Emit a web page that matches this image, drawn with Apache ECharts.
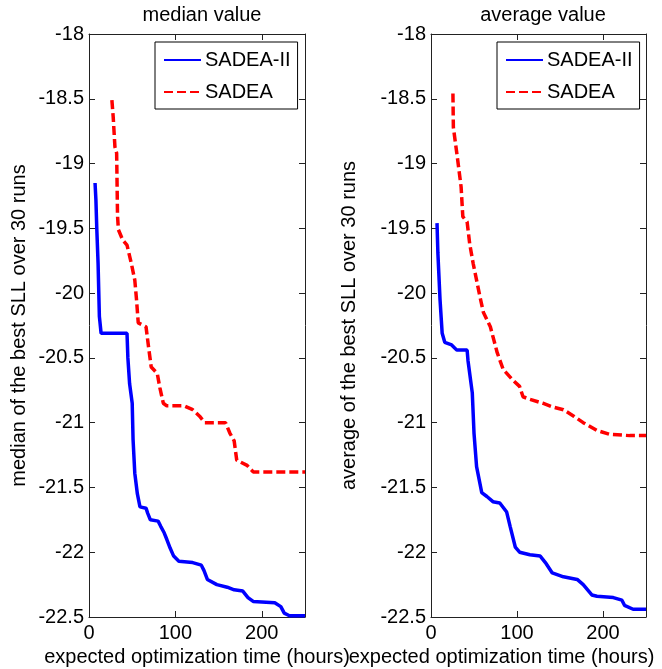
<!DOCTYPE html>
<html>
<head>
<meta charset="utf-8">
<script src="https://cdn.jsdelivr.net/npm/echarts@6/dist/echarts.min.js"></script>
<style>
html,body{margin:0;padding:0;background:#fff;}
#chart{width:662px;height:669px;}
</style>
</head>
<body>
<div id="chart"></div>
<script>
// ---- data ----
var panelTitles = ['median value', 'average value'];
var yAxisNames = ['median of the best SLL over 30 runs', 'average of the best SLL over 30 runs'];
var xAxisName = 'expected optimization time (hours)';
var seriesNames = ['SADEA-II', 'SADEA'];

// median panel
var medSadea2X = [7, 8, 9, 10.5, 12, 14, 44, 45, 47, 50, 51, 53, 56, 59, 66, 68, 71, 80, 83, 87, 90, 94, 98, 104, 120, 130, 133, 137, 148, 160, 168, 178, 184, 190, 215, 222, 226, 232, 250];
var medSadea2Y = [-19.15, -19.28, -19.5, -19.77, -20.18, -20.31, -20.31, -20.5, -20.7, -20.85, -21.13, -21.39, -21.55, -21.65, -21.66, -21.7, -21.75, -21.76, -21.8, -21.85, -21.9, -21.97, -22.03, -22.07, -22.08, -22.1, -22.14, -22.21, -22.25, -22.27, -22.29, -22.3, -22.35, -22.38, -22.39, -22.42, -22.47, -22.49, -22.49];
var medSadeaX = [26.5, 28, 30, 32, 33, 34, 39, 44, 49, 53, 55, 57, 66, 69, 72, 79, 82, 86, 90, 110, 120, 128, 134, 158, 163, 168, 171, 183, 190, 250];
var medSadeaY = [-18.51, -18.64, -18.87, -18.92, -19.4, -19.51, -19.59, -19.63, -19.77, -19.9, -20.05, -20.23, -20.26, -20.42, -20.57, -20.62, -20.73, -20.85, -20.87, -20.87, -20.9, -20.95, -21.0, -21.0, -21.08, -21.14, -21.29, -21.33, -21.38, -21.38];

// average panel
var avgSadea2X = [7, 8, 10.5, 13, 16, 24, 30, 42, 43, 48, 50, 53, 59, 65, 72, 80, 88, 92, 98, 103, 115, 127, 133, 141, 154, 170, 177, 187, 193, 212, 222, 225, 235, 250];
var avgSadea2Y = [-19.46, -19.69, -20.05, -20.31, -20.38, -20.4, -20.44, -20.44, -20.52, -20.77, -21.08, -21.34, -21.54, -21.57, -21.61, -21.62, -21.69, -21.8, -21.96, -22.0, -22.02, -22.03, -22.08, -22.16, -22.19, -22.21, -22.25, -22.33, -22.34, -22.35, -22.37, -22.41, -22.44, -22.44];
var avgSadeaX = [25.5, 26, 31, 35, 37, 42, 45, 49, 53, 57, 61, 69, 77, 84, 95, 103, 107, 115, 130, 142, 154, 166, 177, 193, 208, 231, 250];
var avgSadeaY = [-18.46, -18.72, -18.97, -19.18, -19.41, -19.45, -19.62, -19.77, -19.9, -20.03, -20.15, -20.26, -20.46, -20.59, -20.67, -20.72, -20.8, -20.82, -20.85, -20.88, -20.9, -20.95, -21.0, -21.06, -21.09, -21.1, -21.1];

var xMin = 0, xMax = 250, xStep = 100;
var yMin = -22.5, yMax = -18, yStep = 0.5;

function pairs(xs, ys) { return xs.map(function (x, i) { return [x, ys[i]]; }); }

var FONT = '"Liberation Sans", Arial, sans-serif';
var AX = '#222';
var FS = 20;

var grids = [
  { left: 89, top: 34, width: 216, height: 583, outerBoundsMode: 'none', containLabel: false },
  { left: 431, top: 34, width: 215, height: 583, outerBoundsMode: 'none', containLabel: false }
];

var xAxes = [], yAxes = [];
[0, 1].forEach(function (g) {
  xAxes.push({
    type: 'value', gridIndex: g, min: xMin, max: xMax, interval: xStep, position: 'bottom',
    name: xAxisName, nameLocation: 'middle', nameGap: 27,
    nameTextStyle: { fontFamily: FONT, fontSize: FS, color: '#000', padding: g === 0 ? 0 : [0, 74, 0, 0] },
    axisLine: { show: true, lineStyle: { color: AX, width: 1 } },
    axisTick: { show: true, inside: true, length: 6, lineStyle: { color: AX } },
    axisLabel: { show: true, margin: 6, fontFamily: FONT, fontSize: FS, color: '#000', showMaxLabel: false },
    splitLine: { show: false }
  });
  xAxes.push({
    type: 'value', gridIndex: g, min: xMin, max: xMax, interval: xStep, position: 'top',
    axisLine: { show: true, lineStyle: { color: AX, width: 1 } },
    axisTick: { show: true, inside: true, length: 6, lineStyle: { color: AX } },
    axisLabel: { show: false },
    splitLine: { show: false }
  });
  yAxes.push({
    type: 'value', gridIndex: g, min: yMin, max: yMax, interval: yStep, position: 'left',
    name: yAxisNames[g], nameLocation: 'middle', nameGap: g === 0 ? 60 : 72, nameRotate: 90,
    nameTextStyle: { fontFamily: FONT, fontSize: FS, color: '#000' },
    axisLine: { show: true, onZero: false, lineStyle: { color: AX, width: 1 } },
    axisTick: { show: true, inside: true, length: 6, lineStyle: { color: AX } },
    axisLabel: { show: true, margin: 5, fontFamily: FONT, fontSize: FS, color: '#000' },
    splitLine: { show: false }
  });
  yAxes.push({
    type: 'value', gridIndex: g, min: yMin, max: yMax, interval: yStep, position: 'right',
    axisLine: { show: true, onZero: false, lineStyle: { color: AX, width: 1 } },
    axisTick: { show: true, inside: true, length: 6, lineStyle: { color: AX } },
    axisLabel: { show: false },
    splitLine: { show: false }
  });
});

function lineSeries(name, data, g, color, dashed) {
  return {
    type: 'line', name: name, data: data, xAxisIndex: g * 2, yAxisIndex: g * 2,
    symbol: 'none', showSymbol: false, smooth: false, clip: true,
    lineStyle: { color: color, width: 3.5, type: dashed ? [9, 4] : 'solid' },
    itemStyle: { color: color },
    z: dashed ? 3 : 4
  };
}

var series = [
  lineSeries(seriesNames[0], pairs(medSadea2X, medSadea2Y), 0, '#0000ff', false),
  lineSeries(seriesNames[1], pairs(medSadeaX, medSadeaY), 0, '#ff0000', true),
  lineSeries(seriesNames[0], pairs(avgSadea2X, avgSadea2Y), 1, '#0000ff', false),
  lineSeries(seriesNames[1], pairs(avgSadeaX, avgSadeaY), 1, '#ff0000', true)
];

function legendAt(left) {
  return {
    orient: 'vertical', left: left, top: 42,
    data: seriesNames,
    backgroundColor: '#fff', borderColor: '#000', borderWidth: 1, borderRadius: 0,
    padding: [8, 7, 7, 8], itemGap: 12, itemWidth: 37, itemHeight: 14,
    selectedMode: false,
    itemStyle: { color: 'transparent', borderColor: 'transparent', borderWidth: 0, opacity: 0 },
    textStyle: { fontFamily: FONT, fontSize: FS, color: '#000', padding: [0, 0, 0, -1] }
  };
}

var chart = echarts.init(document.getElementById('chart'), null, { renderer: 'canvas' });
chart.setOption({
  animation: false,
  backgroundColor: '#fff',
  title: [
    { text: panelTitles[0], left: 197, top: 0, textAlign: 'center', textStyle: { fontFamily: FONT, fontSize: FS, fontWeight: 'normal', color: '#000' } },
    { text: panelTitles[1], left: 538, top: 0, textAlign: 'center', textStyle: { fontFamily: FONT, fontSize: FS, fontWeight: 'normal', color: '#000' } }
  ],
  legend: [legendAt(155), legendAt(497)],
  grid: grids,
  xAxis: xAxes,
  yAxis: yAxes,
  series: series
});
</script>
</body>
</html>
